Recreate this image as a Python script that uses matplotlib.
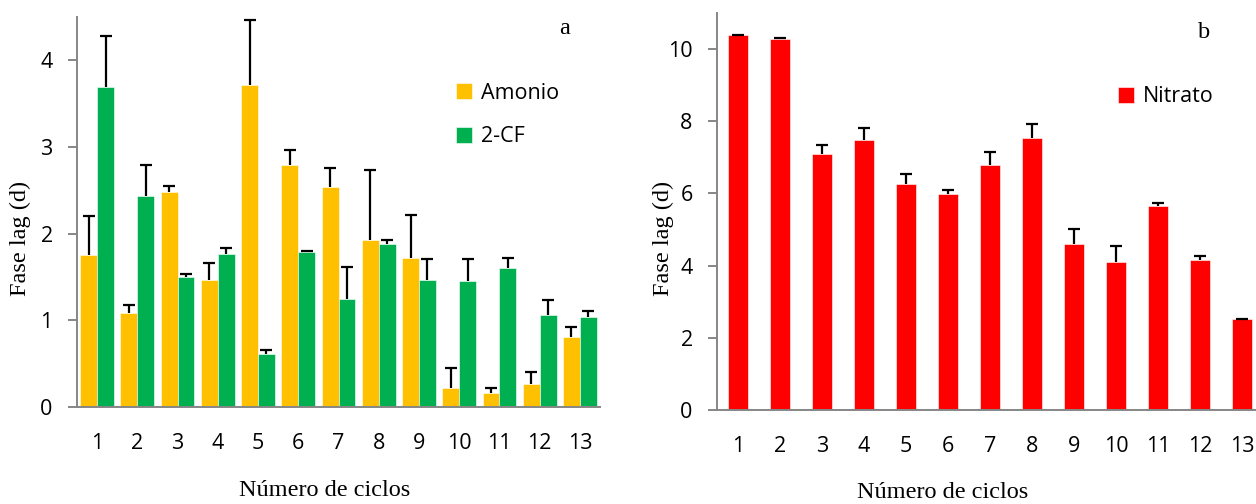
import numpy as np
import matplotlib
matplotlib.use('Agg')
import matplotlib.pyplot as plt

# data
ciclos = np.arange(1, 14)
amonio = [1.75, 1.09, 2.48, 1.46, 3.71, 2.79, 2.54, 1.93, 1.72, 0.22, 0.16, 0.27, 0.81]
amonio_err = [0.45, 0.09, 0.07, 0.20, 0.75, 0.17, 0.22, 0.80, 0.50, 0.23, 0.06, 0.13, 0.11]
cf = [3.69, 2.44, 1.50, 1.76, 0.61, 1.79, 1.25, 1.88, 1.47, 1.45, 1.60, 1.06, 1.04]
cf_err = [0.59, 0.35, 0.03, 0.08, 0.05, 0.01, 0.36, 0.05, 0.24, 0.26, 0.12, 0.17, 0.07]
nitrato = [10.38, 10.28, 7.10, 7.48, 6.25, 5.98, 6.78, 7.52, 4.60, 4.09, 5.64, 4.16, 2.52]
nitrato_err = [0.01, 0.01, 0.25, 0.34, 0.28, 0.11, 0.36, 0.41, 0.42, 0.44, 0.10, 0.11, 0.01]

YELLOW = '#FFC000'
GREEN = '#00B050'
RED = '#FF0000'
AXCOL = '#868686'
TICKFONT = 'Open Sans'
SERIF = 'Liberation Serif'
FS = 15.5

fig = plt.figure(figsize=(12.56, 5.04), dpi=100)
ax1 = fig.add_axes([77/1256, 97/504, 523/1256, 390/504])
ax2 = fig.add_axes([717/1256, 94/504, 546/1256, 397.3/504])

err_kw = dict(ecolor='black', elinewidth=1.6, capsize=4.3, capthick=1.6)
w = 0.42
zeros = np.zeros(13)
bars = []
bars.append(ax1.bar(ciclos - w/2, amonio, w, color=YELLOW, edgecolor='white', linewidth=0.4,
                    yerr=[zeros, amonio_err], error_kw=err_kw, label='Amonio'))
bars.append(ax1.bar(ciclos + w/2, cf, w, color=GREEN, edgecolor='white', linewidth=0.4,
                    yerr=[zeros, cf_err], error_kw=err_kw, label='2-CF'))
bars.append(ax2.bar(ciclos, nitrato, 0.46, color=RED, edgecolor='white', linewidth=0.4,
                    yerr=[zeros, nitrato_err], error_kw=err_kw, label='Nitrato'))
# only the upper caps are shown
for b in bars:
    b.errorbar[1][0].remove()

ax1.set_ylim(0, 4.5)
ax1.set_yticks([0, 1, 2, 3, 4])
ax2.set_ylim(0, 11)
ax2.set_yticks([0, 2, 4, 6, 8, 10])

for ax in (ax1, ax2):
    ax.set_xlim(0.5, 13.5)
    ax.set_xticks(ciclos)
    for s in ('top', 'right'):
        ax.spines[s].set_visible(False)
    for s in ('left', 'bottom'):
        ax.spines[s].set_color(AXCOL)
        ax.spines[s].set_linewidth(1.4)
    ax.tick_params(axis='y', direction='out', length=6.5, width=1.4, color=AXCOL, pad=11)
    ax.tick_params(axis='x', length=0, pad=19)
    for lab in ax.get_xticklabels() + ax.get_yticklabels():
        lab.set_fontfamily(TICKFONT)
        lab.set_fontsize(FS)

# axis titles
fig.text(20/1256, 1 - 238/504, 'Fase lag (d)', family=SERIF, fontsize=17.5,
         rotation=90, ha='center', va='center')
fig.text(663/1256, 1 - 238/504, 'Fase lag (d)', family=SERIF, fontsize=17.5,
         rotation=90, ha='center', va='center')
fig.text(325/1256, 1 - 491/504, 'Número de ciclos', family=SERIF, fontsize=17.5,
         ha='center', va='center')
fig.text(943/1256, 1 - 493/504, 'Número de ciclos', family=SERIF, fontsize=17.5,
         ha='center', va='center')

fig.text(565/1256, 1 - 28/504, 'a', family=SERIF, fontsize=17.5, ha='center', va='center')
fig.text(1204/1256, 1 - 32/504, 'b', family=SERIF, fontsize=17.5, ha='center', va='center')

leg_kw = dict(frameon=False, prop={'family': TICKFONT, 'size': FS},
              handlelength=0.75, handleheight=0.75, handletextpad=0.4,
              labelspacing=1.05, borderpad=0, borderaxespad=0)
ax1.legend(loc='center left', bbox_to_anchor=(456/1256, 1 - 115/504),
           bbox_transform=fig.transFigure, **leg_kw)
ax2.legend(loc='center left', bbox_to_anchor=(1118/1256, 1 - 97/504),
           bbox_transform=fig.transFigure, **leg_kw)

fig.savefig('out.png', dpi=100)
